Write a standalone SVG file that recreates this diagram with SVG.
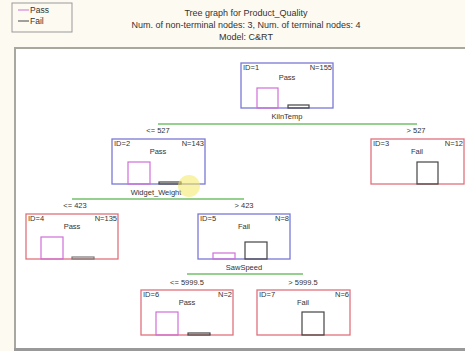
<svg xmlns="http://www.w3.org/2000/svg" width="465" height="351" viewBox="0 0 465 351">
<style>
text{font-family:"Liberation Sans",Arial,sans-serif;fill:#333;font-size:7.5px}
.t{font-size:9px;text-anchor:middle;fill:#333}
.c{text-anchor:middle}
.r{text-anchor:end}
.blue{fill:#fff;stroke:#7a78d4;stroke-width:1.3}
.red{fill:#fff;stroke:#e0707c;stroke-width:1.3}
.pb{fill:none;stroke:#cf6ed8;stroke-width:1.2}
.fb{fill:none;stroke:#444;stroke-width:1.2}
.sp{stroke:#72c06a;stroke-width:1.5}
</style>
<rect width="465" height="351" fill="#fdfaf2"/>
<rect x="15" y="48" width="452" height="301" fill="#fff" stroke="#a8a8a0" stroke-width="2"/>
<line x1="14" y1="349.5" x2="465" y2="349.5" stroke="#999" stroke-width="3"/>
<g id="legend">
<rect x="12" y="3" width="60" height="29" fill="#fdfaf2" stroke="#999" stroke-width="1"/>
<line x1="18" y1="10" x2="29" y2="10" stroke="#cf6ed8" stroke-width="1"/>
<text x="30" y="12.5" style="font-size:8.5px">Pass</text>
<line x1="18" y1="21" x2="29" y2="21" stroke="#444" stroke-width="1"/>
<text x="30" y="23.5" style="font-size:8.5px">Fail</text>
</g>
<g id="title">
<text class="t" x="246" y="16">Tree graph for Product_Quality</text>
<text class="t" x="246" y="28">Num. of non-terminal nodes: 3,  Num. of terminal nodes: 4</text>
<text class="t" x="246" y="40">Model: C&amp;RT</text>
</g>
<g id="connectors">
<line class="sp" x1="158" y1="124" x2="417" y2="124"/>
<line class="sp" x1="72" y1="199" x2="244" y2="199"/>
<line class="sp" x1="187" y1="274" x2="303" y2="274"/>
<text class="c" x="158" y="133">&lt;= 527</text>
<text class="c" x="416" y="133">&gt; 527</text>
<text class="c" x="75" y="208">&lt;= 423</text>
<text class="c" x="244" y="208">&gt; 423</text>
<text class="c" x="187" y="285">&lt;= 5999.5</text>
<text class="c" x="303" y="285">&gt; 5999.5</text>
</g>
<g id="node1">
<rect class="blue" x="241" y="63" width="92" height="45"/>
<text x="243" y="70">ID=1</text><text class="r" x="332" y="70">N=155</text>
<text class="c" x="287" y="80">Pass</text>
<rect class="pb" x="257" y="88" width="21" height="20"/>
<rect class="fb" x="288" y="105" width="21" height="3"/>
<text class="c" x="287" y="119">KilnTemp</text>
</g>
<g id="node2">
<rect class="blue" x="112" y="139" width="93" height="45"/>
<text x="114" y="146">ID=2</text><text class="r" x="204" y="146">N=143</text>
<text class="c" x="158" y="154">Pass</text>
<rect class="pb" x="128" y="162" width="22" height="22"/>
<rect class="fb" x="159" y="182" width="22" height="2"/>
<text class="c" x="156" y="195">Widget_Weight</text>
<circle cx="189" cy="186" r="11" fill="#f2ea60" opacity="0.55"/>
</g>
<g id="node3">
<rect class="red" x="371" y="139" width="93" height="45"/>
<text x="373" y="146">ID=3</text><text class="r" x="463" y="146">N=12</text>
<text class="c" x="417" y="154">Fail</text>
<rect class="fb" x="417" y="162" width="21" height="22"/>
</g>
<g id="node4">
<rect class="red" x="26" y="214" width="92" height="45"/>
<text x="28" y="221">ID=4</text><text class="r" x="117" y="221">N=135</text>
<text class="c" x="72" y="229">Pass</text>
<rect class="pb" x="41" y="237" width="22" height="22"/>
<rect class="fb" x="72" y="257" width="22" height="2" style="stroke:#777"/>
</g>
<g id="node5">
<rect class="blue" x="198" y="214" width="92" height="45"/>
<text x="200" y="221">ID=5</text><text class="r" x="289" y="221">N=8</text>
<text class="c" x="244" y="229">Fail</text>
<rect class="pb" x="213" y="253" width="22" height="6"/>
<rect class="fb" x="245" y="242" width="22" height="17"/>
<text class="c" x="244" y="270">SawSpeed</text>
</g>
<g id="node6">
<rect class="red" x="141" y="290" width="92" height="45"/>
<text x="143" y="297">ID=6</text><text class="r" x="232" y="297">N=2</text>
<text class="c" x="187" y="305">Pass</text>
<rect class="pb" x="156" y="312" width="22" height="23"/>
<rect class="fb" x="188" y="333" width="22" height="2"/>
</g>
<g id="node7">
<rect class="red" x="257" y="290" width="93" height="45"/>
<text x="259" y="297">ID=7</text><text class="r" x="349" y="297">N=6</text>
<text class="c" x="303" y="305">Fail</text>
<rect class="fb" x="302" y="312" width="22" height="23"/>
</g>
</svg>
